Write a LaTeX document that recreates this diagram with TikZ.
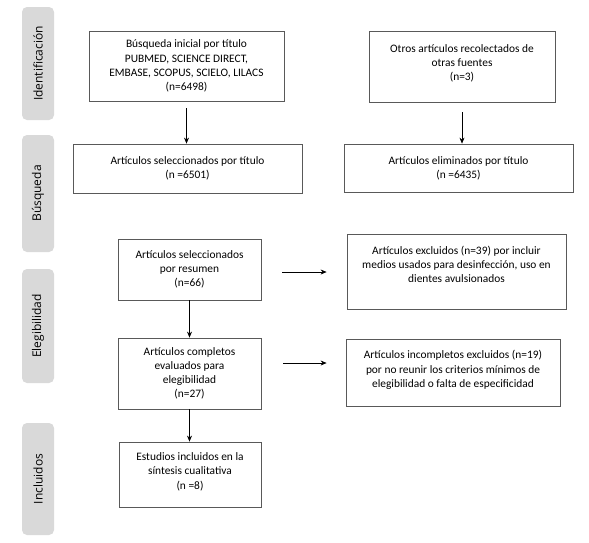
\documentclass[tikz,border=0pt]{standalone}
\usepackage{fontspec}
\setmainfont{Carlito}
\newfontfamily\labelfont{Open Sans}
\usetikzlibrary{arrows.meta}
\begin{document}
\begin{tikzpicture}[x=1pt,y=-1pt,
  box/.style={draw=black!65, line width=0.8pt, align=center, inner sep=1pt,
    font=\fontsize{11.4}{14.2}\selectfont, text=black},
  phase/.style={fill=black!15, rounded corners=5pt, rotate=90, inner sep=0pt,
    minimum height=32pt, font=\labelfont\fontsize{12}{14}\selectfont, text=black},
  arr/.style={-{Stealth[length=6pt,width=5pt]}, line width=0.6pt, black}]
\useasboundingbox (0,0) rectangle (589,542);
\fill[white] (0,0) rectangle (589,542);
% phase labels
\node[phase, minimum width=113pt] (p1) at (38,63.5) {Identificación};
\node[phase, minimum width=117pt] (p2) at (38,193.5) {Búsqueda};
\node[phase, minimum width=114pt] (p3) at (38,326) {Elegibilidad};
\node[phase, minimum width=112pt] (p4) at (38,479) {Incluidos};
% boxes
\node[box, minimum width=195pt, minimum height=70pt] (b1) at (186.5,66)
  {Búsqueda inicial por título\\PUBMED, SCIENCE DIRECT,\\EMBASE, SCOPUS, SCIELO, LILACS\\(n=6498)};
\node[box, minimum width=229pt, minimum height=49pt] (b2) at (187.5,168.5)
  {Artículos seleccionados por título\\(n =6501)};
\node[box, minimum width=186pt, minimum height=71pt] (b3) at (462,66.5)
  {Otros artículos recolectados de\\otras fuentes\\(n=3)\\[-6pt]\mbox{}};
\node[box, minimum width=229pt, minimum height=48pt] (b4) at (458.5,168)
  {Artículos eliminados por título\\(n =6435)};
\node[box, minimum width=143pt, minimum height=61pt] (b5) at (189.5,269.5)
  {Artículos seleccionados\\por resumen\\(n=66)};
\node[box, minimum width=143pt, minimum height=71pt] (b6) at (189.5,373.5)
  {Artículos completos\\evaluados para\\elegibilidad\\(n=27)};
\node[box, minimum width=142pt, minimum height=65pt] (b7) at (190,474.5)
  {Estudios incluidos en la\\síntesis cualitativa\\(n =8)\\[-7pt]\mbox{}};
\node[box, minimum width=219pt, minimum height=75pt] (b8) at (456.5,271.5)
  {Artículos excluidos (n=39) por incluir\\medios usados para desinfección, uso en\\dientes avulsionados\\[0pt]\mbox{}};
\node[box, minimum width=214pt, minimum height=67pt] (b9) at (453,372.5)
  {Artículos incompletos excluidos (n=19)\\por no reunir los criterios mínimos de\\elegibilidad o falta de especificidad\\[-7pt]\mbox{}};
% connectors
\draw[arr, shorten <=7pt] (b1.south) -- (b1.south |- b2.north);
\draw[arr, shorten <=10pt] (b3.south) -- (b3.south |- b4.north);
\draw[arr] (b5.south) -- (b5.south |- b6.north);
\draw[arr] (b6.south) -- (b6.south |- b7.north);
\path ([yshift=-2.5pt]b5.east) coordinate (a5);
\draw[arr, shorten <=21pt, shorten >=20pt] (a5) -- (a5 -| b8.west);
\path ([yshift=10.5pt]b6.east) coordinate (a6);
\draw[arr, shorten <=22pt, shorten >=19pt] (a6) -- (a6 -| b9.west);
\end{tikzpicture}
\end{document}
